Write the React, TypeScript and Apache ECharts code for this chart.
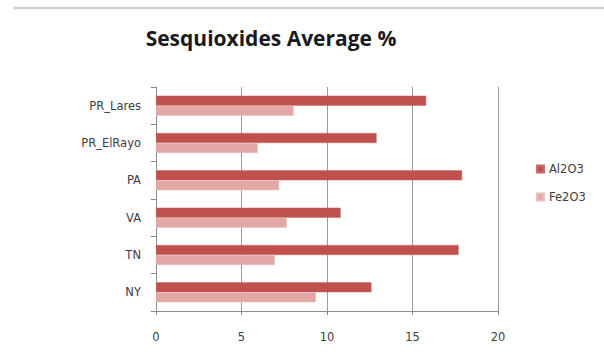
import React, { useEffect, useRef } from "react";
import * as echarts from "echarts";

const categories = ["NY", "TN", "VA", "PA", "PR_ElRayo", "PR_Lares"];
const al2o3 = [12.6, 17.7, 10.8, 17.9, 12.9, 15.8];
const fe2o3 = [9.35, 6.95, 7.65, 7.2, 5.95, 8.05];
const xTicks = [0, 5, 10, 15, 20];

export default function App() {
  const ref = useRef<HTMLDivElement>(null);
  useEffect(() => {
    if (!ref.current) return;
    const chart = echarts.init(ref.current, null, { renderer: "svg" });
    chart.setOption({
      animation: false,
      backgroundColor: "#ffffff",
      title: {
        text: "Sesquioxides Average %",
        left: 266,
        top: 22,
        textAlign: "center",
        textStyle: {
          fontFamily: "Open Sans",
          fontWeight: "bold",
          fontSize: 21,
          color: "#1a1a1a",
        },
      },
      graphic: [
        {
          type: "line",
          shape: { x1: 13, y1: 8, x2: 604, y2: 8 },
          style: { stroke: "#d4d4d4", lineWidth: 2.5 },
        },
      ],
      legend: {
        orient: "vertical",
        left: 531,
        top: 158,
        itemWidth: 7,
        itemHeight: 7,
        itemGap: 16,
        icon: "rect",
        data: ["Al2O3", "Fe2O3"],
        textStyle: { fontFamily: "Verdana, 'DejaVu Sans'", fontSize: 11.5, color: "#404040" },
      },
      grid: { left: 156, right: 106, top: 87, bottom: 49 },
      xAxis: {
        type: "value",
        min: xTicks[0],
        max: xTicks[xTicks.length - 1],
        interval: 5,
        axisLine: { show: true, lineStyle: { color: "#8c8c8c" } },
        axisTick: { show: true, length: 4, lineStyle: { color: "#8c8c8c" } },
        splitLine: { show: true, lineStyle: { color: "#9a9a9a" } },
        axisLabel: {
          margin: 20,
          fontFamily: "Verdana, 'DejaVu Sans'",
          fontSize: 11.5,
          color: "#404040",
        },
      },
      yAxis: {
        type: "category",
        data: categories,
        axisLine: { show: true, lineStyle: { color: "#8c8c8c" } },
        axisTick: { show: true, length: 5, lineStyle: { color: "#8c8c8c" } },
        axisLabel: {
          margin: 15,
          fontFamily: "Verdana, 'DejaVu Sans'",
          fontSize: 11.5,
          color: "#404040",
        },
      },
      series: [
        {
          name: "Al2O3",
          type: "bar",
          data: al2o3,
          barWidth: 10,
          barGap: "0%",
          itemStyle: { color: "#c0504d", borderColor: "#cd6a67", borderWidth: 0.5 },
        },
        {
          name: "Fe2O3",
          type: "bar",
          data: fe2o3,
          barWidth: 10,
          barGap: "0%",
          itemStyle: { color: "#e3a7a6", borderColor: "#eabebd", borderWidth: 0.5 },
        },
      ],
    });
    return () => chart.dispose();
  }, []);
  return (
    <div
      ref={ref}
      style={{ position: "fixed", left: 0, top: 0, width: 604, height: 360 }}
    />
  );
}
